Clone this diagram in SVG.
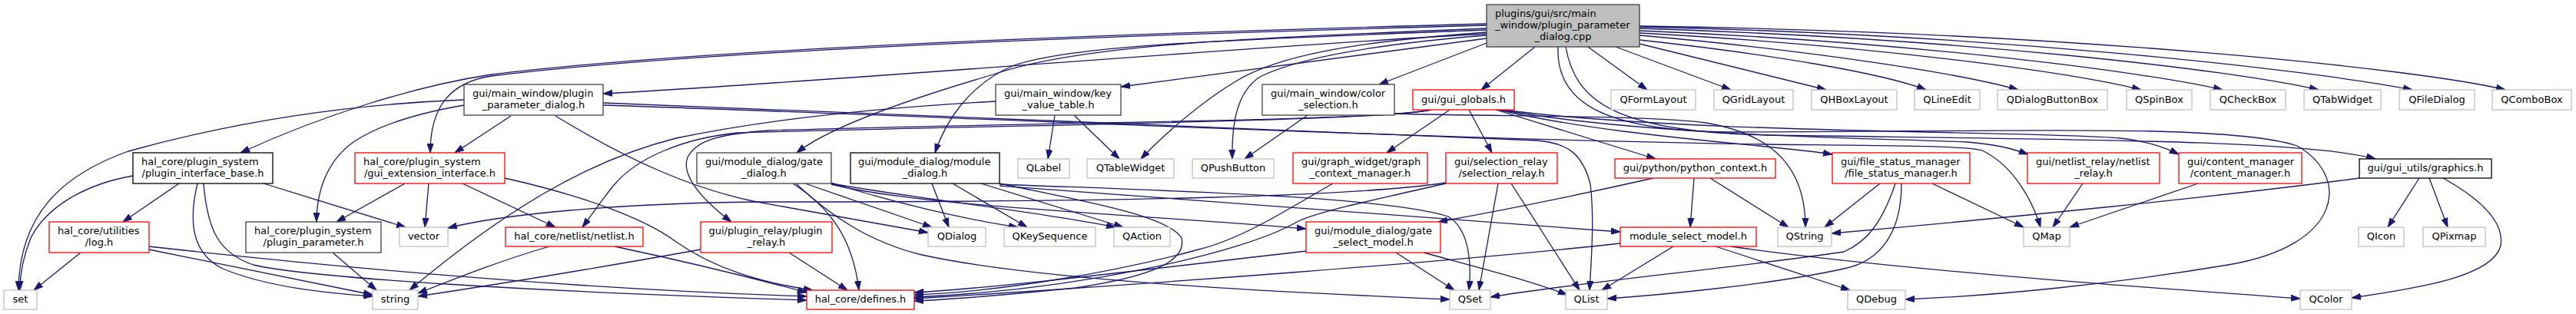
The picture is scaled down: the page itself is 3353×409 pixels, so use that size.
<svg xmlns="http://www.w3.org/2000/svg" width="3353" height="409" viewBox="0 0 3353 409">
<defs>
<style>
text{font-family:"DejaVu Sans","Liberation Sans",sans-serif;font-size:13px;fill:#000}
.m{text-anchor:middle}
rect{fill:#fff;stroke-width:1.3}
.r{stroke:#f00}
.g{stroke:#bfbfbf}
.k{stroke:#000}
.d{stroke:#404040}
rect.root{fill:#bfbfbf;stroke:#404040}
#edges path{fill:none;stroke:#191970;stroke-width:1.3;marker-end:url(#a)}
</style>
<marker id="a" markerWidth="12" markerHeight="9" refX="12" refY="4.5" orient="auto" markerUnits="userSpaceOnUse"><path d="M0,0.5 L12,4.5 L0,8.5 z" fill="#191970" stroke="#191970" stroke-width="1"/></marker>
</defs>
<rect width="3353" height="409" fill="#fff"/>
<g id="edges">
<path d="M1935,44 C1600,62 1100,105 785,122"/>
<path d="M1935,31 C1400,45 900,65 640,97 C540,112 420,150 313,199"/>
<path d="M1935,33 C1400,47 900,67 640,99 C585,107 560,140 560,199"/>
<path d="M1935,37 C1600,50 1400,60 1293,97 C1180,130 1080,165 1037,199"/>
<path d="M1935,39 C1600,52 1400,58 1320,85 C1260,110 1230,160 1217,199"/>
<path d="M1935,50 L1459,113"/>
<path d="M1935,42 C1750,55 1660,75 1610,105 C1560,135 1510,180 1485,207"/>
<path d="M1935,46 C1760,60 1680,80 1640,100 C1610,120 1603,160 1604,207"/>
<path d="M1935,56 L1795,110"/>
<path d="M1998,61 L1928,117"/>
<path d="M2067,61 L2144,117"/>
<path d="M2103,61 L2253,117"/>
<path d="M2134,57 L2377,117"/>
<path d="M2134,52 C2300,70 2450,95 2507,117"/>
<path d="M2134,46 C2350,65 2550,95 2627,117"/>
<path d="M2134,43 C2450,60 2700,95 2787,117"/>
<path d="M2134,40 C2500,55 2800,95 2893,117"/>
<path d="M2134,37 C2550,50 2900,90 3018,117"/>
<path d="M2134,35 C2600,45 3000,90 3140,117"/>
<path d="M2134,34 C2700,42 3150,90 3261,117"/>
<path d="M2028,61 C2025,130 2080,170 2250,172 C2600,172 2900,160 2990,190 C3060,230 3050,320 2900,345 C2750,370 2600,385 2480,390"/>
<path d="M2038,61 C2050,130 2100,172 2300,176 C2700,182 3000,182 3092,207"/>
<path d="M1815,148 C1950,152 2150,150 2220,160 C2310,175 2350,220 2350,296"/>
<path d="M1702,150 L1620,207"/>
<path d="M1373,150 L1364,207"/>
<path d="M1398,150 L1457,207"/>
<path d="M1296,132 C1150,140 1000,155 880,180 C760,210 650,280 533,378"/>
<path d="M604,130 C450,136 300,160 167,197 C80,228 25,280 24,378"/>
<path d="M604,137 C540,148 490,165 460,185 C425,210 412,250 412,289"/>
<path d="M665,151 L592,199"/>
<path d="M723,151 C820,210 900,245 980,262 C1080,280 1150,292 1208,303"/>
<path d="M785,134 C1100,145 1700,172 2000,183 C2040,186 2060,200 2070,240 C2075,280 2072,330 2069,378"/>
<path d="M785,137 C1200,150 1800,180 2300,188 C2480,190 2560,190 2580,196 C2620,215 2645,260 2656,296"/>
<path d="M233,239 L160,289"/>
<path d="M173,229 C110,240 60,270 40,310 C28,340 26,360 26,378"/>
<path d="M257,239 C245,290 250,330 290,350 C350,375 430,382 485,386"/>
<path d="M265,239 C270,300 285,330 330,345 C400,362 700,380 1050,391"/>
<path d="M343,239 L528,296"/>
<path d="M105,329 L44,378"/>
<path d="M194,325 L485,384"/>
<path d="M194,321 C500,355 800,378 1050,386"/>
<path d="M433,329 L490,378"/>
<path d="M527,239 L438,289"/>
<path d="M558,239 L553,296"/>
<path d="M602,239 L723,296"/>
<path d="M657,232 C760,255 840,285 880,315 C930,350 990,368 1058,378"/>
<path d="M715,321 C650,340 600,360 544,382"/>
<path d="M800,321 C880,338 980,362 1050,381"/>
<path d="M912,325 C800,345 650,370 544,386"/>
<path d="M1027,329 L1103,378"/>
<path d="M1863,143 C1800,158 1300,160 1000,170 C930,175 905,185 895,205 C885,230 920,265 952,289"/>
<path d="M1862,143 C1800,158 1300,163 960,173 C890,180 830,205 800,240 C785,258 770,280 758,296"/>
<path d="M1887,143 L1805,199"/>
<path d="M1912,143 L1942,199"/>
<path d="M1947,143 L2155,207"/>
<path d="M1950,143 C2100,178 2300,188 2385,201"/>
<path d="M1953,143 C2150,178 2450,180 2560,185 C2600,188 2620,194 2640,201"/>
<path d="M1956,143 C2200,175 2650,170 2760,180 C2800,185 2820,193 2836,201"/>
<path d="M1735,239 C1680,270 1620,310 1560,325 C1450,355 1300,380 1190,384"/>
<path d="M1882,238 C1750,258 1400,263 1000,263 C800,264 650,280 583,297"/>
<path d="M1882,239 C1780,262 1720,275 1690,288 C1620,330 1400,378 1190,387"/>
<path d="M1950,239 L1925,378"/>
<path d="M1967,239 L2056,378"/>
<path d="M1032,239 C1080,270 1110,310 1118,378"/>
<path d="M1048,239 L1213,296"/>
<path d="M1082,238 C1150,260 1250,285 1325,296"/>
<path d="M1082,239 C1200,260 1350,275 1452,296"/>
<path d="M1082,240 C1200,270 1500,280 1700,298"/>
<path d="M1036,239 C1080,280 1130,315 1200,332 C1350,365 1650,380 1887,390"/>
<path d="M1213,239 L1235,296"/>
<path d="M1240,239 L1337,296"/>
<path d="M1277,239 L1462,296"/>
<path d="M1301,239 C1400,260 1520,280 1538,310 C1545,340 1500,360 1400,375 C1300,385 1240,390 1190,392"/>
<path d="M1301,240 C1500,248 1800,255 1885,282 C1915,300 1915,350 1912,378"/>
<path d="M1301,242 C1600,265 1900,285 2109,302"/>
<path d="M1817,329 L1893,378"/>
<path d="M1853,329 C1930,350 1990,365 2040,384"/>
<path d="M1700,327 C1500,350 1300,375 1190,381"/>
<path d="M2178,321 L2085,378"/>
<path d="M2233,321 L2408,378"/>
<path d="M2253,321 C2450,350 2800,375 2994,389"/>
<path d="M2109,317 C1900,340 1500,370 1190,389"/>
<path d="M2205,232 L2200,296"/>
<path d="M2226,232 L2328,296"/>
<path d="M2152,232 C2050,255 1950,275 1872,289"/>
<path d="M2447,239 L2375,296"/>
<path d="M2467,239 C2450,290 2430,315 2400,328 C2250,350 2050,368 1940,387"/>
<path d="M2475,239 C2475,300 2450,340 2400,350 C2300,372 2150,385 2092,389"/>
<path d="M2515,239 L2634,296"/>
<path d="M2711,239 L2672,296"/>
<path d="M2861,239 C2800,260 2740,280 2694,296"/>
<path d="M3071,232 C2900,255 2600,285 2384,304"/>
<path d="M3149,232 L3108,296"/>
<path d="M3162,232 L3186,296"/>
<path d="M3180,232 C3230,260 3260,290 3255,320 C3245,360 3150,375 3061,388"/>
</g>
<g id="main"><rect class="root" x="1935" y="6" width="199" height="55"/><text x="1946" y="21.5">plugins/gui/src/main</text><text x="1946" y="36.5">_window/plugin_parameter</text><text class="m" x="2034.5" y="51.5">_dialog.cpp</text></g>
<g id="ppd"><rect class="d" x="604" y="110" width="181" height="40"/><text x="615" y="125.5">gui/main_window/plugin</text><text class="m" x="694.5" y="140.5">_parameter_dialog.h</text></g>
<g id="kvt"><rect class="d" x="1296" y="110" width="163" height="40"/><text x="1307" y="125.5">gui/main_window/key</text><text class="m" x="1377.5" y="140.5">_value_table.h</text></g>
<g id="cs"><rect class="d" x="1643" y="110" width="172" height="40"/><text x="1654" y="125.5">gui/main_window/color</text><text class="m" x="1729" y="140.5">_selection.h</text></g>
<g id="gg"><rect class="r" x="1839" y="117" width="132" height="26"/><text class="m" x="1905" y="133.5">gui/gui_globals.h</text></g>
<g id="qformlayout"><rect class="g" x="2097" y="117" width="110" height="26"/><text class="m" x="2152" y="133.5">QFormLayout</text></g>
<g id="qgridlayout"><rect class="g" x="2231" y="117" width="103" height="26"/><text class="m" x="2282.5" y="133.5">QGridLayout</text></g>
<g id="qhboxlayout"><rect class="g" x="2358" y="117" width="111" height="26"/><text class="m" x="2413.5" y="133.5">QHBoxLayout</text></g>
<g id="qlineedit"><rect class="g" x="2492" y="117" width="85" height="26"/><text class="m" x="2534.5" y="133.5">QLineEdit</text></g>
<g id="qdialogbuttonbox"><rect class="g" x="2600" y="117" width="143" height="26"/><text class="m" x="2671.5" y="133.5">QDialogButtonBox</text></g>
<g id="qspinbox"><rect class="g" x="2768" y="117" width="85" height="26"/><text class="m" x="2810.5" y="133.5">QSpinBox</text></g>
<g id="qcheckbox"><rect class="g" x="2877" y="117" width="98" height="26"/><text class="m" x="2926" y="133.5">QCheckBox</text></g>
<g id="qtabwidget"><rect class="g" x="2999" y="117" width="100" height="26"/><text class="m" x="3049" y="133.5">QTabWidget</text></g>
<g id="qfiledialog"><rect class="g" x="3123" y="117" width="98" height="26"/><text class="m" x="3172" y="133.5">QFileDialog</text></g>
<g id="qcombobox"><rect class="g" x="3244" y="117" width="103" height="26"/><text class="m" x="3295.5" y="133.5">QComboBox</text></g>
<g id="pib"><rect class="k" x="173" y="199" width="182" height="40"/><text x="184" y="214.5">hal_core/plugin_system</text><text class="m" x="264" y="229.5">/plugin_interface_base.h</text></g>
<g id="gei"><rect class="r" x="462" y="199" width="195" height="40"/><text x="473" y="214.5">hal_core/plugin_system</text><text class="m" x="559.5" y="229.5">/gui_extension_interface.h</text></g>
<g id="gd"><rect class="d" x="907" y="199" width="175" height="40"/><text x="918" y="214.5">gui/module_dialog/gate</text><text class="m" x="994.5" y="229.5">_dialog.h</text></g>
<g id="md"><rect class="k" x="1107" y="199" width="194" height="40"/><text x="1117" y="214.5">gui/module_dialog/module</text><text class="m" x="1204" y="229.5">_dialog.h</text></g>
<g id="qlabel"><rect class="g" x="1325" y="207" width="67" height="25"/><text class="m" x="1358.5" y="223">QLabel</text></g>
<g id="qtablewidget"><rect class="g" x="1415" y="207" width="113" height="25"/><text class="m" x="1471.5" y="223">QTableWidget</text></g>
<g id="qpushbutton"><rect class="g" x="1552" y="207" width="106" height="25"/><text class="m" x="1605" y="223">QPushButton</text></g>
<g id="gcm"><rect class="r" x="1683" y="199" width="175" height="40"/><text x="1694" y="214.5">gui/graph_widget/graph</text><text class="m" x="1770.5" y="229.5">_context_manager.h</text></g>
<g id="sr"><rect class="r" x="1882" y="199" width="145" height="40"/><text x="1893" y="214.5">gui/selection_relay</text><text class="m" x="1954.5" y="229.5">/selection_relay.h</text></g>
<g id="pc"><rect class="r" x="2102" y="207" width="209" height="25"/><text class="m" x="2206.5" y="223">gui/python/python_context.h</text></g>
<g id="fsm"><rect class="r" x="2385" y="199" width="179" height="40"/><text x="2396" y="214.5">gui/file_status_manager</text><text class="m" x="2474.5" y="229.5">/file_status_manager.h</text></g>
<g id="nr"><rect class="r" x="2639" y="199" width="172" height="40"/><text x="2650" y="214.5">gui/netlist_relay/netlist</text><text class="m" x="2725" y="229.5">_relay.h</text></g>
<g id="cm"><rect class="r" x="2836" y="199" width="160" height="40"/><text x="2847" y="214.5">gui/content_manager</text><text class="m" x="2916" y="229.5">/content_manager.h</text></g>
<g id="graphics"><rect class="k" x="3071" y="207" width="172" height="25"/><text class="m" x="3157" y="223">gui/gui_utils/graphics.h</text></g>
<g id="log"><rect class="r" x="64" y="289" width="130" height="40"/><text x="75" y="304.5">hal_core/utilities</text><text class="m" x="129" y="319.5">/log.h</text></g>
<g id="pp"><rect class="d" x="320" y="289" width="176" height="40"/><text x="331" y="304.5">hal_core/plugin_system</text><text class="m" x="408" y="319.5">/plugin_parameter.h</text></g>
<g id="vector"><rect class="g" x="520" y="296" width="63" height="25"/><text class="m" x="551.5" y="312">vector</text></g>
<g id="netlist"><rect class="r" x="658" y="296" width="179" height="25"/><text class="m" x="747.5" y="312">hal_core/netlist/netlist.h</text></g>
<g id="pr"><rect class="r" x="912" y="289" width="171" height="40"/><text x="922.5" y="304.5">gui/plugin_relay/plugin</text><text class="m" x="997.5" y="319.5">_relay.h</text></g>
<g id="qdialog"><rect class="g" x="1208" y="296" width="75" height="25"/><text class="m" x="1245.5" y="312">QDialog</text></g>
<g id="qkeysequence"><rect class="g" x="1307" y="296" width="119" height="25"/><text class="m" x="1366.5" y="312">QKeySequence</text></g>
<g id="qaction"><rect class="g" x="1450" y="296" width="73" height="25"/><text class="m" x="1486.5" y="312">QAction</text></g>
<g id="gsm"><rect class="r" x="1700" y="289" width="175" height="40"/><text x="1711" y="304.5">gui/module_dialog/gate</text><text class="m" x="1787.5" y="319.5">_select_model.h</text></g>
<g id="msm"><rect class="r" x="2109" y="296" width="177" height="25"/><text class="m" x="2197.5" y="312">module_select_model.h</text></g>
<g id="qstring"><rect class="g" x="2314" y="296" width="70" height="25"/><text class="m" x="2349" y="312">QString</text></g>
<g id="qmap"><rect class="g" x="2634" y="296" width="60" height="25"/><text class="m" x="2664" y="312">QMap</text></g>
<g id="qicon"><rect class="g" x="3070" y="296" width="59" height="25"/><text class="m" x="3099.5" y="312">QIcon</text></g>
<g id="qpixmap"><rect class="g" x="3154" y="296" width="81" height="25"/><text class="m" x="3194.5" y="312">QPixmap</text></g>
<g id="set"><rect class="g" x="5" y="378" width="43" height="25"/><text class="m" x="26.5" y="394">set</text></g>
<g id="string"><rect class="g" x="485" y="378" width="59" height="25"/><text class="m" x="514.5" y="394">string</text></g>
<g id="defines"><rect class="r" x="1050" y="378" width="140" height="25"/><text class="m" x="1120" y="394">hal_core/defines.h</text></g>
<g id="qset"><rect class="g" x="1887" y="378" width="53" height="25"/><text class="m" x="1913.5" y="394">QSet</text></g>
<g id="qlist"><rect class="g" x="2038" y="378" width="54" height="25"/><text class="m" x="2065" y="394">QList</text></g>
<g id="qdebug"><rect class="g" x="2405" y="378" width="75" height="25"/><text class="m" x="2442.5" y="394">QDebug</text></g>
<g id="qcolor"><rect class="g" x="2994" y="378" width="67" height="25"/><text class="m" x="3027.5" y="394">QColor</text></g>
</svg>
